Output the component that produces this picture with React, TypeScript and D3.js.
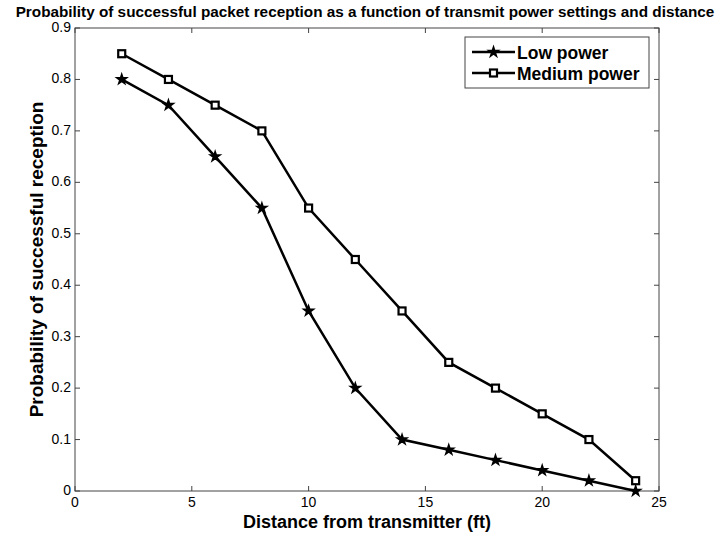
import React from "react";
import * as d3 from "d3";

const distances = [2, 4, 6, 8, 10, 12, 14, 16, 18, 20, 22, 24];
const lowPower = [0.8, 0.75, 0.65, 0.55, 0.35, 0.2, 0.1, 0.08, 0.06, 0.04, 0.02, 0];
const mediumPower = [0.85, 0.8, 0.75, 0.7, 0.55, 0.45, 0.35, 0.25, 0.2, 0.15, 0.1, 0.02];
const xTicks = [0, 5, 10, 15, 20, 25];
const yTicks = [0, 0.1, 0.2, 0.3, 0.4, 0.5, 0.6, 0.7, 0.8, 0.9];
const seriesNames = ["Low power", "Medium power"];

const W = 727, H = 533;
const M = { left: 75, right: 659, top: 28, bottom: 491 };

export default function App() {
  const x = d3.scaleLinear().domain([0, 25]).range([M.left, M.right]);
  const y = d3.scaleLinear().domain([0, 0.9]).range([M.bottom, M.top]);
  const line = d3.line<number>().x((_, i) => x(distances[i])).y((d) => y(d));
  const star = d3.symbol().type(d3.symbolStar).size(30)();
  const font = "Arial, 'Liberation Sans', sans-serif";
  const tl = 5;
  const axisColor = "#444";
  const sq = 7;
  const Square = ({ cx, cy }: { cx: number; cy: number }) => (
    <rect x={cx - sq / 2} y={cy - sq / 2} width={sq} height={sq} fill="white" stroke="black" strokeWidth={2.2} />
  );
  return (
    <svg width={W} height={H} style={{ position: "absolute", left: 0, top: 0, background: "white" }}>
      <rect x={0} y={0} width={W} height={H} fill="white" />
      <text x={365} y={17} textAnchor="middle" fontFamily={font} fontWeight="bold" fontSize={15.3}>
        Probability of successful packet reception as a function of transmit power settings and distance
      </text>
      <rect x={M.left} y={M.top} width={M.right - M.left} height={M.bottom - M.top} fill="none" stroke={axisColor} strokeWidth={1} />
      {xTicks.map((t) => (
        <g key={"x" + t}>
          <line x1={x(t)} x2={x(t)} y1={M.bottom} y2={M.bottom - tl} stroke={axisColor} />
          <line x1={x(t)} x2={x(t)} y1={M.top} y2={M.top + tl} stroke={axisColor} />
          <text x={x(t)} y={M.bottom + 16} textAnchor="middle" fontFamily={font} fontSize={14}>{t}</text>
        </g>
      ))}
      {yTicks.map((t) => (
        <g key={"y" + t}>
          <line x1={M.left} x2={M.left + tl} y1={y(t)} y2={y(t)} stroke={axisColor} />
          <line x1={M.right} x2={M.right - tl} y1={y(t)} y2={y(t)} stroke={axisColor} />
          <text x={M.left - 4} y={y(t) + 4} textAnchor="end" fontFamily={font} fontSize={14}>{t === 0 ? "0" : d3.format(".1f")(t)}</text>
        </g>
      ))}
      <text x={(M.left + M.right) / 2} y={528} textAnchor="middle" fontFamily={font} fontWeight="bold" fontSize={18}>
        Distance from transmitter (ft)
      </text>
      <text transform={`translate(43,${(M.top + M.bottom) / 2}) rotate(-90)`} textAnchor="middle" fontFamily={font} fontWeight="bold" fontSize={19}>
        Probability of successful reception
      </text>
      <path d={line(lowPower) || ""} fill="none" stroke="black" strokeWidth={2.5} />
      <path d={line(mediumPower) || ""} fill="none" stroke="black" strokeWidth={2.5} />
      {lowPower.map((v, i) => (
        <path key={"l" + i} d={star || ""} transform={`translate(${x(distances[i])},${y(v)})`} fill="black" stroke="black" strokeWidth={1.5} />
      ))}
      {mediumPower.map((v, i) => (
        <Square key={"m" + i} cx={x(distances[i])} cy={y(v)} />
      ))}
      <rect x={465} y={37} width={184} height={51} fill="white" stroke={axisColor} strokeWidth={1} />
      <line x1={472} x2={515} y1={52} y2={52} stroke="black" strokeWidth={2.5} />
      <path d={star || ""} transform="translate(493.5,52)" fill="black" stroke="black" strokeWidth={1.5} />
      <text x={517} y={58.5} fontFamily={font} fontWeight="bold" fontSize={17.5}>{seriesNames[0]}</text>
      <line x1={472} x2={515} y1={73} y2={73} stroke="black" strokeWidth={2.5} />
      <Square cx={493.5} cy={73} />
      <text x={517} y={79.5} fontFamily={font} fontWeight="bold" fontSize={17.5}>{seriesNames[1]}</text>
    </svg>
  );
}
